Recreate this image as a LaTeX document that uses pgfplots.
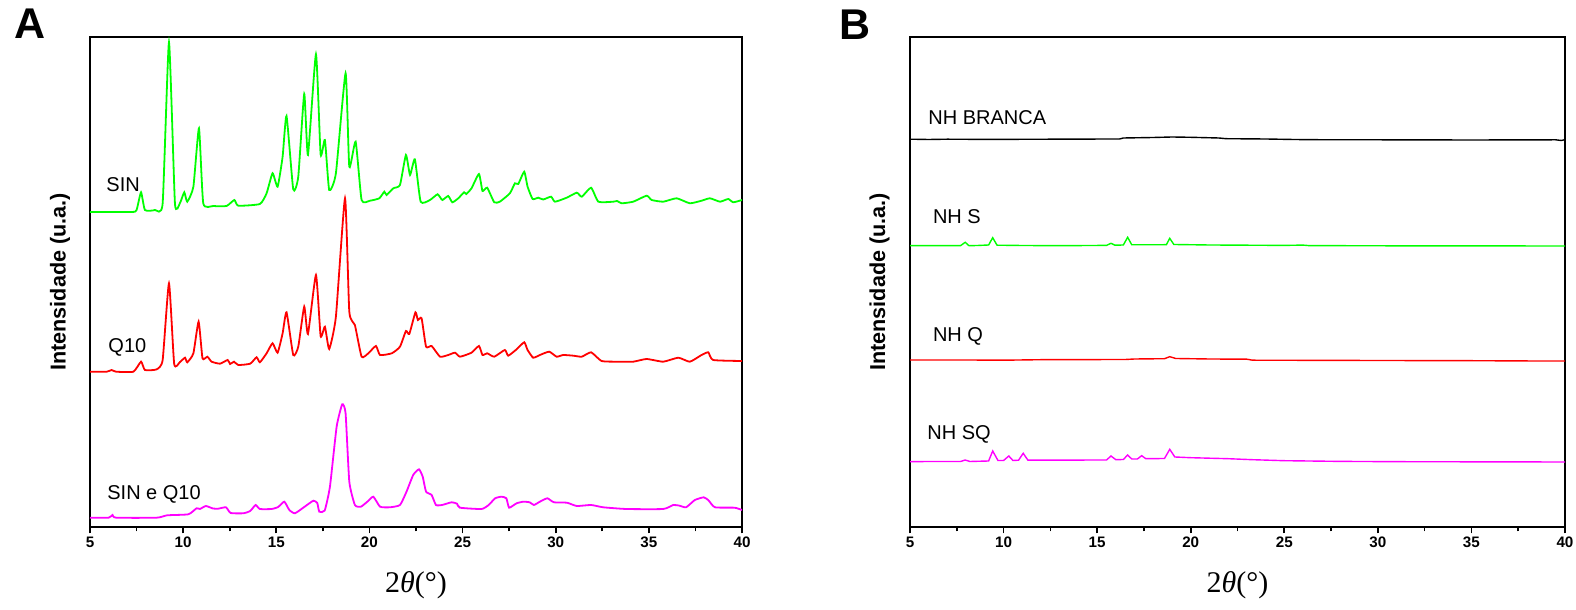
\documentclass[border=0pt]{standalone}
\usepackage{pgfplots}
\pgfplotsset{compat=1.18}
\usepackage{fontspec}
\setmainfont{Liberation Sans}
\newfontfamily\serif{Liberation Serif}
\definecolor{cgreen}{RGB}{0,255,0}
\definecolor{cred}{RGB}{255,0,0}
\definecolor{cmag}{RGB}{255,0,255}
\pgfplotsset{
 panel/.style={
  scale only axis, height=245pt, xmin=5, xmax=40, ymin=0, ymax=490,
  xtick={5,10,...,40}, minor x tick num=1, ytick=\empty, xtick pos=left,
  tick align=outside, major tick length=3.2pt, minor tick length=2.2pt,
  every tick/.style={black, line width=0.8pt},
  axis line style={line width=1pt},
  /pgf/number format/assume math mode=true,
  xticklabel style={font=\bfseries\fontsize{7.6}{8}\selectfont, inner sep=1.5pt},
  xlabel={{\serif 2\textit{θ}(°)}},
  xlabel style={font=\fontsize{15}{16}\selectfont, at={(axis description cs:0.5,0)}, anchor=center, yshift=-29pt},
  ylabel={Intensidade (u.a.)},
  ylabel style={font=\bfseries\fontsize{10.8}{12}\selectfont, anchor=center},
 },
}
\tikzset{lab/.style={anchor=base west, inner sep=0pt, font=\fontsize{10}{12}\selectfont}}
\begin{document}
\begin{tikzpicture}
\path[use as bounding box] (0,0) rectangle (788pt,305pt);
\begin{axis}[panel, at={(45pt,41.5pt)}, anchor=south west, width=326pt,
  ylabel style={at={(axis description cs:-0.046,0.5)}}]
\addplot[cgreen, line width=0.9pt, smooth, tension=0.3] coordinates {
(5,315)(7.24,315)(7.5,317)(7.74,334.7)(7.95,317)(8.49,317)(8.9,323.7)(9.24,484.7)(9.56,323.7)(9.83,324)(10.06,334.7)(10.22,325.3)(10.55,340.3)(10.85,398.7)(11.08,323.7)(11.62,321)(12.33,321)(12.75,327)(12.96,321.3)(14.12,323)(14.48,333.7)(14.8,353.7)(15.07,340.3)(15.34,370.3)(15.55,411)(15.91,337.7)(16.18,350.3)(16.5,433)(16.7,372)(17.13,472.7)(17.38,372.7)(17.61,387)(17.84,337)(18.2,353.7)(18.72,453.7)(18.92,360.3)(19.26,385.3)(19.58,327)(20.03,326.3)(20.53,328.7)(20.8,335.3)(20.92,332)(21.28,338.7)(21.64,342)(21.96,372)(22.18,352)(22.44,367.7)(22.75,325.3)(23.25,327)(23.66,332.7)(23.91,327)(24.23,331)(24.45,324.7)(24.77,328.7)(25.08,334.7)(25.2,333)(25.48,338.7)(25.88,353)(26.07,336)(26.32,339.3)(26.7,324.7)(27.0,325.3)(27.54,333.7)(27.81,343.7)(27.99,343)(28.31,355.3)(28.49,340.3)(28.76,328)(29.06,329.3)(29.33,327.5)(29.75,330.3)(29.96,325.3)(30.59,329.3)(31.13,334.3)(31.4,330.3)(31.9,339.3)(32.29,325.3)(33.09,325.3)(33.3,326)(33.54,323.7)(34.16,325.3)(34.88,331.3)(35.15,327)(35.77,325.3)(36.49,328.7)(37.2,323.7)(37.83,326.3)(38.28,328.7)(38.82,325.3)(39.26,328)(39.53,324.7)(40,327)
};
\addplot[cred, line width=0.9pt, smooth, tension=0.3] coordinates {
(5,155.3)(5.9,155.3)(6.16,157)(6.4,155.3)(7.33,155.3)(7.74,165.3)(7.95,157)(8.57,157.6)(8.9,167)(9.24,243.7)(9.52,163)(9.83,165)(10.1,169.3)(10.22,164.7)(10.55,173.7)(10.83,205.3)(11.04,168.7)(11.3,170.3)(11.53,165.3)(11.98,163.3)(12.39,167)(12.52,163)(12.73,165.3)(12.96,162)(13.6,163.3)(13.94,169.7)(14.12,164.7)(14.48,173.7)(14.8,183.7)(15.07,174.3)(15.34,193.7)(15.55,214.7)(15.91,172)(16.18,180.3)(16.5,220.3)(16.7,193)(17.13,252)(17.38,191)(17.61,200.3)(17.84,178)(18.2,210.3)(18.69,328.7)(18.92,215.3)(19.22,202)(19.58,170.3)(19.94,173.7)(20.35,181)(20.57,172)(21.2,173.7)(21.64,180.3)(21.96,196)(22.14,193)(22.47,214.7)(22.6,207)(22.8,208.7)(23.04,180.3)(23.34,181)(23.79,170.3)(24.23,172)(24.59,174.3)(24.86,170.3)(25.48,174.3)(25.88,181)(26.07,172)(26.32,173.7)(26.7,170.3)(27.27,177)(27.45,171.3)(27.9,177.7)(28.31,184.7)(28.49,177)(28.79,169.3)(29.15,172)(29.65,175.3)(30.05,170.3)(30.4,172)(30.95,171.3)(31.4,170.3)(31.9,174.7)(32.46,166)(33.3,165.3)(34.16,165.3)(34.88,168)(35.77,165.3)(36.58,169.3)(37.2,165.3)(37.83,172)(38.19,174.7)(38.45,167)(40,166)
};
\addplot[cmag, line width=0.9pt, smooth, tension=0.3] coordinates {
(5,9.3)(6.0,9.3)(6.21,12)(6.4,9.3)(8.58,9.3)(9.15,11.7)(10.28,12.7)(10.72,18.7)(10.9,18)(11.22,21)(11.6,18.5)(11.88,18.3)(12.3,19.7)(12.55,14)(13.23,13.7)(13.6,16)(13.89,22)(14.12,18)(14.75,18)(15.1,20)(15.43,25.3)(15.7,17)(16.0,13.7)(16.5,20)(16.99,26.3)(17.2,24)(17.31,15.3)(17.6,16.5)(17.88,40.3)(18.24,100.3)(18.54,122.7)(18.72,113.7)(18.92,45.3)(19.22,22)(19.54,20.3)(19.9,25.5)(20.21,30.3)(20.57,20.3)(21.1,19.7)(21.64,22)(21.99,35.3)(22.35,52)(22.66,57.7)(22.86,50.3)(23.04,35.3)(23.34,32)(23.57,22)(23.9,22)(24.41,24.7)(24.7,23.3)(24.86,19.3)(26.02,18)(26.4,22)(26.75,28.7)(27.09,30.3)(27.35,28.7)(27.5,19.3)(27.9,23.7)(28.26,25.3)(28.6,24.7)(28.83,22)(29.15,25.3)(29.55,28.7)(29.9,24.7)(30.6,24.3)(31.13,21)(31.9,22)(32.55,19.7)(33.8,18)(35.77,18)(36.31,22)(36.65,21.3)(37.0,19.7)(37.47,27)(37.95,29.7)(38.2,26.7)(38.55,19.7)(39.6,19.3)(40,17)
};
\node[lab] at (axis cs:5.86,335) {SIN};
\node[lab] at (axis cs:5.97,174) {Q10};
\node[lab] at (axis cs:5.91,27) {SIN e Q10};
\end{axis}
\begin{axis}[panel, at={(455pt,41.5pt)}, anchor=south west, width=327.5pt,
  ylabel style={at={(axis description cs:-0.0466,0.5)}}]
\addplot[black, line width=0.7pt] coordinates {
(5,387.8)(6,387.5)(7,387.8)(9,387.6)(11,387.7)(14,387.9)(16.2,388)(16.4,389)(18,389.5)(19,390)(20,389.7)(21.5,389)(21.9,388.3)(24,388)(25.5,387.5)(26.5,387.3)(30,387.2)(35,387)(39.5,387.2)(39.8,386.5)(40,387.3)
};
\addplot[cgreen, line width=0.7pt] coordinates {
(5,281.3)(7.7,281.3)(7.95,284.7)(8.15,281.3)(8.6,281.5)(9.2,282)(9.42,289.3)(9.65,281.8)(11,281.5)(13,281.3)(15.5,281.6)(15.74,283.7)(15.95,281.8)(16.4,282)(16.63,289.7)(16.85,282.2)(18.7,282.3)(18.88,288.7)(19.1,282.5)(21,282)(25,281.6)(26,281.9)(26.3,281.4)(30,281.2)(40,281)
};
\addplot[cred, line width=0.7pt] coordinates {
(5,167)(8,167)(10,166.8)(12,167.3)(16.5,167.5)(17,168)(18.6,168.3)(18.88,170.3)(19.2,168.5)(21,168)(23,167.8)(23.3,166.8)(30,166.5)(35,166.3)(38.5,166)(40,166)
};
\addplot[cmag, line width=0.7pt] coordinates {
(5,65.3)(6,65.5)(7.7,65.5)(7.95,67)(8.2,65.5)(9.2,66)(9.42,76)(9.7,66.5)(10.0,66.5)(10.28,71)(10.5,66.5)(10.8,66.8)(11.05,73.7)(11.3,66.8)(15.5,67)(15.74,71)(16.0,67.3)(16.4,67.5)(16.63,72)(16.85,68)(17.15,68)(17.38,71.3)(17.6,68.3)(18.6,68.5)(18.88,77.7)(19.15,70)(20,69.3)(22,68.3)(23.3,67.3)(25,66.3)(28,65.6)(31.3,65.3)(40,65)
};
\node[lab] at (axis cs:5.96,402) {NH BRANCA};
\node[lab] at (axis cs:6.21,303.7) {NH S};
\node[lab] at (axis cs:6.21,185.3) {NH Q};
\node[lab] at (axis cs:5.91,87.7) {NH SQ};
\end{axis}
\node[font=\bfseries\fontsize{21.5}{24}\selectfont] at (15pt,293pt) {A};
\node[font=\bfseries\fontsize{21.5}{24}\selectfont] at (427.5pt,292.5pt) {B};
\end{tikzpicture}
\end{document}
